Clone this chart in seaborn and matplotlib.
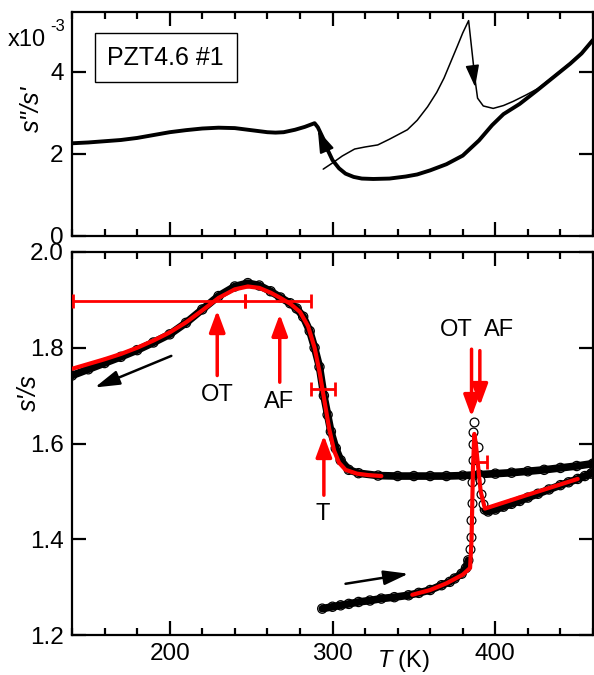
import numpy as np
import pandas as pd
import matplotlib
matplotlib.use("Agg")
import matplotlib.pyplot as plt
from matplotlib.ticker import MultipleLocator, FixedLocator, NullLocator, FormatStrFormatter
import seaborn as sns

# ---------------- data ----------------
# top panel: loss s''/s' (x10^-3)
T_loss_cool = [140, 150, 160, 170, 180, 190, 200, 210, 220, 230, 240, 250, 260, 265, 270, 277, 283, 289,
               291, 294, 297, 300, 304, 308, 313, 318, 325, 335, 345, 352, 360, 370, 380, 390, 398, 405,
               415, 426, 436, 446, 453, 460]
loss_cool = [2.26, 2.28, 2.31, 2.34, 2.39, 2.46, 2.53, 2.58, 2.62, 2.64, 2.63, 2.58, 2.53, 2.52, 2.53, 2.59,
             2.66, 2.75, 2.65, 2.40, 2.10, 1.85, 1.65, 1.52, 1.44, 1.40, 1.39, 1.40, 1.45, 1.50, 1.60, 1.75,
             1.96, 2.33, 2.70, 2.97, 3.22, 3.56, 3.88, 4.20, 4.45, 4.78]
T_loss_heat = [294.3, 300, 306, 313.6, 320, 327.8, 335, 346, 352, 358.4, 364, 368.5, 376.6, 380, 383.6,
               387.6, 389.1, 392.6, 398.7, 405, 410.9, 419, 426, 436, 446, 453, 460]
loss_heat = [1.63, 1.78, 1.95, 2.12, 2.17, 2.22, 2.36, 2.59, 2.82, 3.15, 3.50, 3.85, 4.62, 4.95, 5.25,
             3.80, 3.36, 3.17, 3.11, 3.18, 3.28, 3.44, 3.59, 3.90, 4.22, 4.47, 4.80]

# bottom panel: s'/s, cooling
T_cool = [140, 150, 160, 170, 180, 190, 200, 210, 220, 230, 240, 248, 255, 262, 268, 274, 278, 282, 286,
          289, 292, 294.7, 297, 299, 302, 305, 310, 316, 328, 340, 350, 360, 370, 380, 390, 400, 410,
          420, 430, 440, 450, 460]
sp_cool = [1.742, 1.755, 1.768, 1.781, 1.795, 1.811, 1.828, 1.852, 1.880, 1.908, 1.928, 1.935, 1.930,
           1.918, 1.905, 1.893, 1.882, 1.865, 1.835, 1.800, 1.760, 1.700, 1.660, 1.625, 1.590, 1.565,
           1.545, 1.538, 1.533, 1.532, 1.532, 1.532, 1.532, 1.533, 1.535, 1.537, 1.539, 1.542, 1.545,
           1.549, 1.553, 1.558]
# heating
T_heat_low = [293.7, 300, 305, 310, 316, 323, 330, 338, 346.7, 353, 360, 367, 372, 375, 379.3, 382, 383.4]
sp_heat_low = [1.255, 1.259, 1.262, 1.265, 1.269, 1.272, 1.276, 1.279, 1.283, 1.288, 1.294, 1.304, 1.311,
               1.318, 1.328, 1.340, 1.356]
T_heat_jump = [384.5, 385.0, 385.3, 385.5, 385.8, 386.0, 386.3, 386.6, 386.8, 389.5, 390.5, 391.5, 392.5]
sp_heat_jump = [1.38, 1.405, 1.44, 1.475, 1.52, 1.565, 1.60, 1.625, 1.644, 1.592, 1.523, 1.495, 1.474]
T_heat_high = [393.6, 395.6, 400, 405, 410, 415, 420, 426.2, 433, 440, 445, 450.6, 455, 458.8, 460]
sp_heat_high = [1.462, 1.458, 1.462, 1.468, 1.474, 1.480, 1.487, 1.495, 1.504, 1.513, 1.519, 1.526,
                1.532, 1.537, 1.540]

# fits (red)
T_fit_cool = [140, 150, 160, 170, 180, 190, 200, 210, 220, 230, 240, 248, 255, 262, 268, 274, 280, 285,
              289, 292, 295, 298, 301, 304, 308, 315, 322, 330]
fit_cool = [1.756, 1.766, 1.776, 1.787, 1.800, 1.815, 1.832, 1.853, 1.878, 1.904, 1.922, 1.928, 1.925,
            1.915, 1.904, 1.892, 1.875, 1.845, 1.800, 1.750, 1.690, 1.630, 1.585, 1.560, 1.545, 1.537,
            1.534, 1.532]
T_fit_heat = [349, 360, 370, 380, 384.5, 385.4, 386.3, 387.1, 388, 391, 393.6, 420, 450.6]
fit_heat = [1.284, 1.294, 1.308, 1.326, 1.340, 1.400, 1.550, 1.620, 1.600, 1.500, 1.464, 1.493, 1.526]

# transition temperatures and their ranges
tr_labels = ["OT", "AF", "T", "OT", "AF"]
tr_T = [229.2, 267.6, 294.7, 385.4, 390.5]
err_T_center = [229.2, 267.6, 294.2, 390.5]
err_T_low = [88.8, 21.4, 7.2, 4.5]
err_T_high = [17.0, 19.4, 7.3, 4.5]
err_y = [1.898, 1.898, 1.714, 1.561]

sample_label = "PZT4.6 #1"
xticks_major = [200, 300, 400]

# ---------------- style ----------------
sns.set_theme(style="ticks")
plt.rcParams.update({
    "font.family": ["Liberation Sans", "DejaVu Sans"],
    "mathtext.fontset": "custom",
    "mathtext.rm": "Liberation Sans",
    "mathtext.it": "Liberation Sans:italic",
    "axes.linewidth": 1.6,
    "axes.edgecolor": "black",
    "text.color": "black",
    "xtick.color": "black",
    "ytick.color": "black",
})

fig = plt.figure(figsize=(5.94, 6.75), dpi=100)
W, H = 594, 675
ax1 = fig.add_axes([72 / W, 1 - 236 / H, 521 / W, 224 / H])
ax2 = fig.add_axes([72 / W, 1 - 635 / H, 521 / W, 383 / H])

TICK_FS = 17.5
LAB_FS = 17

for ax in (ax1, ax2):
    ax.set_xlim(140, 460)
    ax.xaxis.set_major_locator(FixedLocator(xticks_major))
    ax.xaxis.set_minor_locator(MultipleLocator(20))
    ax.yaxis.set_minor_locator(NullLocator())
    ax.tick_params(which="both", direction="in", top=True, right=True, width=1.6,
                   labelsize=TICK_FS)
    ax.tick_params(which="major", length=10, pad=6)
    ax.tick_params(which="minor", length=5)
    ax.set_xlabel("")
    ax.set_ylabel("")

# ---------- top panel ----------
sns.lineplot(x=T_loss_cool, y=loss_cool, ax=ax1, color="black", lw=2.8, sort=False, estimator=None)
sns.lineplot(x=T_loss_heat, y=loss_heat, ax=ax1, color="black", lw=1.1, sort=False, estimator=None)
ax1.set_ylim(0, 5.46)
ax1.set_yticks([0, 2, 4])
ax1.yaxis.set_major_formatter(FormatStrFormatter("%d"))
ax1.tick_params(labelbottom=False)

ax1.annotate("", xy=(387.6, 3.63), xytext=(386.0, 4.12),
             arrowprops=dict(arrowstyle="-|>,head_length=0.9,head_width=0.28", color="black",
                             lw=1.1, shrinkA=0, shrinkB=0, mutation_scale=15))
ax1.annotate("", xy=(291.0, 2.58), xytext=(296.5, 2.08),
             arrowprops=dict(arrowstyle="-|>,head_length=0.9,head_width=0.3", color="black",
                             lw=1.5, shrinkA=0, shrinkB=0, mutation_scale=15))

ax1.text(0.180, 0.796, sample_label, transform=ax1.transAxes, ha="center", va="center",
         fontsize=18, bbox=dict(boxstyle="square,pad=0.5", fc="white", ec="black", lw=1.0))
ax1.text(-0.077, 0.567, "s''/s'", transform=ax1.transAxes, rotation=90, ha="center", va="center",
         fontsize=18, fontstyle="italic")
fig.text(8 / W, 1 - 46 / H, "x10", fontsize=17, va="baseline", ha="left")
fig.text(50 / W, 1 - 31 / H, "-3", fontsize=12, va="baseline", ha="left")

# ---------- bottom panel ----------
ring = dict(marker="o", s=44, facecolor="none", edgecolor="black", linewidth=0.9, zorder=3, legend=False)
for tx, ty in ((T_cool, sp_cool), (T_heat_low, sp_heat_low), (T_heat_high, sp_heat_high)):
    sns.lineplot(x=tx, y=ty, ax=ax2, color="black", lw=5.5, sort=False, estimator=None, zorder=2)
    sns.scatterplot(x=tx, y=ty, ax=ax2, **ring)
sns.scatterplot(x=T_heat_jump, y=sp_heat_jump, ax=ax2, marker="o", s=40, color="white",
                edgecolor="black", linewidth=0.9, zorder=3, legend=False)

sns.lineplot(x=T_fit_cool, y=fit_cool, ax=ax2, color="red", lw=3.0, sort=False, estimator=None, zorder=4)
sns.lineplot(x=T_fit_heat, y=fit_heat, ax=ax2, color="red", lw=3.0, sort=False, estimator=None, zorder=4)

ax2.errorbar(err_T_center, err_y, xerr=[err_T_low, err_T_high], fmt="none", ecolor="red",
             elinewidth=2.0, capsize=5, capthick=2.0, zorder=5, clip_on=False)

ax2.set_ylim(1.2, 2.0)
ax2.set_yticks([1.2, 1.4, 1.6, 1.8, 2.0])
ax2.yaxis.set_major_formatter(FormatStrFormatter("%.1f"))

red_arrow = dict(arrowstyle="-|>,head_length=0.65,head_width=0.24", color="red", lw=2.5,
                 shrinkA=0, shrinkB=0, mutation_scale=20)
# cooling transitions (arrows pointing up)
up_tails = [1.742, 1.728, 1.492]
up_tips = [1.878, 1.870, 1.617]
for t, y0, y1 in zip(tr_T[:3], up_tails, up_tips):
    ax2.annotate("", xy=(t, y1), xytext=(t, y0), arrowprops=red_arrow, zorder=6)
ax2.text(tr_T[0], 1.702, tr_labels[0], ha="center", va="center", fontsize=LAB_FS)
ax2.text(tr_T[1] - 0.5, 1.687, tr_labels[1], ha="center", va="center", fontsize=LAB_FS)
ax2.text(tr_T[2] - 0.8, 1.452, tr_labels[2], ha="center", va="center", fontsize=LAB_FS)
# heating transitions (arrows pointing down)
ax2.annotate("", xy=(tr_T[3], 1.656), xytext=(tr_T[3], 1.797), arrowprops=red_arrow, zorder=6)
ax2.annotate("", xy=(tr_T[4], 1.679), xytext=(tr_T[4], 1.794), arrowprops=red_arrow, zorder=6)
ax2.text(376.3, 1.8375, tr_labels[3], ha="center", va="center", fontsize=LAB_FS)
ax2.text(402.2, 1.8375, tr_labels[4], ha="center", va="center", fontsize=LAB_FS)

blk_arrow = dict(arrowstyle="-|>,head_length=0.75,head_width=0.22", color="black", lw=1.8,
                 shrinkA=0, shrinkB=0, mutation_scale=20)
ax2.annotate("", xy=(154, 1.717), xytext=(201, 1.783), arrowprops=blk_arrow)
ax2.annotate("", xy=(346.7, 1.328), xytext=(308, 1.307), arrowprops=blk_arrow)

ax2.text(-0.082, 0.634, "s'/s", transform=ax2.transAxes, rotation=90, ha="center", va="center",
         fontsize=18, fontstyle="italic")
ax2.text(0.637, -0.084, r"$\mathit{T}$ (K)", transform=ax2.transAxes, ha="center", va="baseline",
         fontsize=LAB_FS)

fig.savefig("out.png", dpi=100)
